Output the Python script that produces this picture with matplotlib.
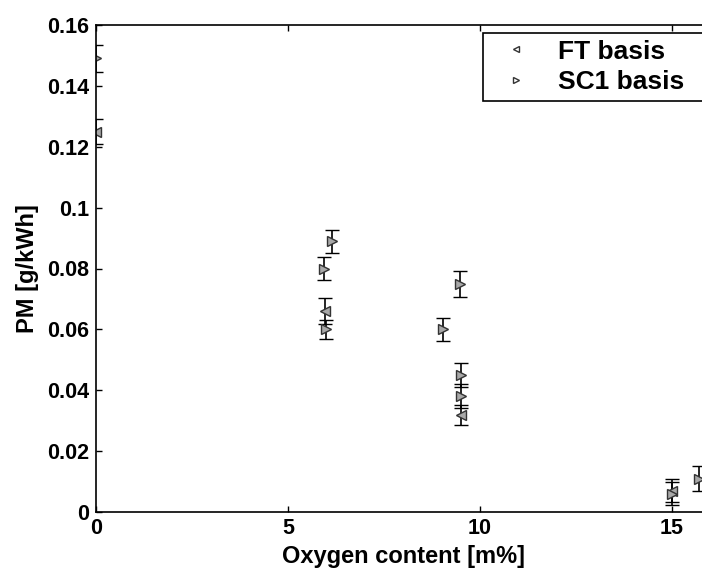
import numpy as np
import matplotlib
matplotlib.use('Agg')
import matplotlib.pyplot as plt

plt.rcParams['font.family'] = ['Liberation Sans', 'DejaVu Sans']
plt.rcParams['font.weight'] = 'bold'

# FT basis
ft_x = [0.0, 5.96, 9.5, 15.0]
ft_y = [0.125, 0.066, 0.032, 0.007]
ft_err = [0.004, 0.0042, 0.0033, 0.0038]

# SC1 basis
sc_x = [0.0, 5.93, 6.14, 6.0, 9.04, 9.48, 9.5, 9.5, 15.0, 15.7]
sc_y = [0.149, 0.080, 0.089, 0.060, 0.060, 0.075, 0.045, 0.038, 0.006, 0.011]
sc_err = [0.0045, 0.0038, 0.0038, 0.0032, 0.0038, 0.0042, 0.0038, 0.0039, 0.0037, 0.0042]

yticks = [0, 0.02, 0.04, 0.06, 0.08, 0.1, 0.12, 0.14, 0.16]
ytick_labels = ['0', '0.02', '0.04', '0.06', '0.08', '0.1', '0.12', '0.14', '0.16']
xticks = [0, 5, 10, 15]

fig = plt.figure(figsize=(7.02, 5.72), dpi=100)
# axes runs past the right edge of the picture (cropped figure)
ax = fig.add_axes([96/702, 60/572, 614.4/702, 487/572])

mk = dict(ms=6.5, mec='#333333', mfc='#a8a8a8', mew=1.0)
ax.errorbar(ft_x, ft_y, yerr=ft_err, fmt='<', ecolor='black', elinewidth=1.2,
            capsize=5, capthick=1.2, label='FT basis', **mk)
ax.errorbar(sc_x, sc_y, yerr=sc_err, fmt='>', ecolor='black', elinewidth=1.2,
            capsize=5, capthick=1.2, label='SC1 basis', **mk)

ax.set_xlim(0, 16)
ax.set_ylim(0, 0.16)
ax.set_xticks(xticks)
ax.set_yticks(yticks)
ax.set_yticklabels(ytick_labels)
ax.tick_params(direction='in', length=4, width=1, top=True, right=True,
               labelsize=15.5)
ax.tick_params(axis='x', pad=4)
ax.tick_params(axis='y', pad=5)
for s in ax.spines.values():
    s.set_linewidth(1.2)

ax.set_xlabel('Oxygen content [m%]', fontsize=17, fontweight='bold', labelpad=5)
ax.set_ylabel('PM [g/kWh]', fontsize=17, fontweight='bold', labelpad=6)

handles, labels = ax.get_legend_handles_labels()
handles = [h[0] for h in handles]
leg = fig.legend(handles, labels, loc='upper left',
                 bbox_to_anchor=(483/702, 1 - 33/572 - 0.01, 240/702, 0.01),
                 mode='expand', fontsize=19, borderpad=0.25, labelspacing=0.25,
                 handlelength=2.0, handletextpad=0.6, fancybox=False,
                 framealpha=1, borderaxespad=0)
leg.get_frame().set_edgecolor('black')
leg.get_frame().set_linewidth(1.2)
for h in leg.legend_handles:
    h.set_markersize(5)
    h.set_markerfacecolor('white')

fig.savefig('out.png', dpi=100)
